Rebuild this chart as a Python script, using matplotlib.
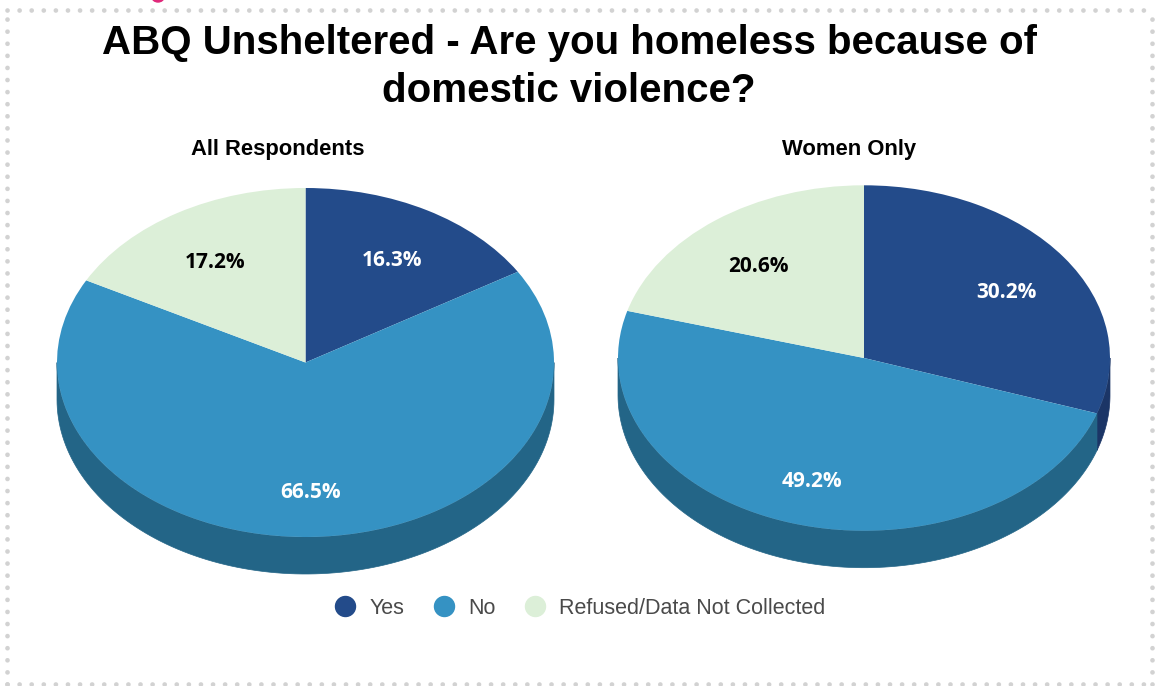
import numpy as np
import matplotlib.pyplot as plt
from matplotlib.patches import Polygon, Ellipse
from matplotlib.lines import Line2D
from matplotlib.transforms import ScaledTranslation

# --- data -------------------------------------------------------------
categories = ["Yes", "No", "Refused/Data Not Collected"]
all_respondents = [16.3, 66.5, 17.2]
women_only = [30.2, 49.2, 20.6]
panel_titles = ["All Respondents", "Women Only"]
chart_title = "ABQ Unsheltered - Are you homeless because of\ndomestic violence?"

# --- style ------------------------------------------------------------
top_colors = ["#234b8a", "#3592c3", "#dcefd8"]
side_colors = ["#1b3566", "#236587", "#a9bba5"]
label_colors = ["white", "white", "black"]

W, H = 1156, 686
fig = plt.figure(figsize=(W / 100, H / 100), dpi=100)
fig.patch.set_facecolor("white")

XL, YT, YB = 1.1, 1.1, 1.4   # axis extents in radius units


def pie_axes(cx, cy, rx, ry):
    """Axes whose unit circle is an ellipse centred at pixel (cx, cy)."""
    left = (cx - XL * rx) / W
    width = 2 * XL * rx / W
    top = cy - YT * ry
    height = (YT + YB) * ry
    bottom = (H - top - height) / H
    return fig.add_axes([left, bottom, width, height / H])


def tilted_pie(ax, values, depth, pctdist):
    fracs = np.asarray(values, dtype=float) / np.sum(values)
    edges = np.concatenate([[0.0], np.cumsum(fracs)]) * 360.0  # clockwise from 12 o'clock
    # side wall: only the front half (3 o'clock -> 9 o'clock) is visible
    for i in range(len(values)):
        lo, hi = max(edges[i], 90.0), min(edges[i + 1], 270.0)
        if hi <= lo:
            continue
        a = np.radians(np.linspace(lo, hi, 120))
        xs, ys = np.sin(a), np.cos(a)
        pts = np.column_stack([np.concatenate([xs, xs[::-1]]),
                               np.concatenate([ys, ys[::-1] - depth])])
        ax.add_patch(Polygon(pts, closed=True, facecolor=side_colors[i],
                             edgecolor=side_colors[i], linewidth=0.5, zorder=1))
    wedges, _, autotexts = ax.pie(
        values, colors=top_colors, startangle=90, counterclock=False,
        radius=1.0, autopct="%1.1f%%", pctdistance=pctdist,
        wedgeprops=dict(linewidth=0, zorder=2),
        textprops=dict(fontsize=15, fontweight="bold", family="Open Sans"),
        frame=True)
    for w in wedges:
        w.set_zorder(2)
    shift = ax.transData + ScaledTranslation(0, -0.06, fig.dpi_scale_trans)
    for t, c in zip(autotexts, label_colors):
        t.set_color(c)
        t.set_zorder(3)
        t.set_transform(shift)
    ax.set_aspect("auto")
    ax.set_xlim(-XL, XL)
    ax.set_ylim(-YB, YT)
    ax.axis("off")


ax1 = pie_axes(305.5, 362.5, 248.5, 174.5)
tilted_pie(ax1, all_respondents, 37 / 174.5, 0.71)
ax2 = pie_axes(864.0, 358.0, 246.0, 172.7)
tilted_pie(ax2, women_only, 37 / 172.7, 0.71)

# --- text -------------------------------------------------------------
fig.text(569 / W, 1 - 24 / H, chart_title, ha="center", va="top",
         fontsize=29, fontweight="bold", family="Liberation Sans",
         linespacing=1.33, color="black")
fig.text(278 / W, 1 - 155 / H, panel_titles[0], ha="center", va="baseline",
         fontsize=15.8, fontweight="bold", family="Liberation Sans")
fig.text(849 / W, 1 - 155 / H, panel_titles[1], ha="center", va="baseline",
         fontsize=15.8, fontweight="bold", family="Liberation Sans")

handles = [Line2D([], [], linestyle="none", marker="o", markersize=14.4,
                  markerfacecolor=c, markeredgecolor=c) for c in top_colors]
fig.legend(handles, categories, loc="center", bbox_to_anchor=(580 / W, 1 - 608 / H),
           ncol=3, frameon=False, handletextpad=0.62, columnspacing=1.35,
           prop=dict(family="Liberation Sans", size=15.5), labelcolor="#4a4a4a",
           handlelength=1.0)

# --- dotted frame -----------------------------------------------------
frame_kw = dict(color="#d2d2d2", linewidth=3.4, linestyle=(0, (0.01, 2.55)),
                dash_capstyle="round", transform=fig.transFigure)
x0, x1 = 6.5 / W, 1152 / W
y0, y1 = 1 - 684 / H, 1 - 10 / H
fig.add_artist(Line2D([x0, x1], [y1, y1], **frame_kw))
fig.add_artist(Line2D([x0, x1], [y0, y0], **frame_kw))
fig.add_artist(Line2D([x0, x0], [y0, y1], **frame_kw))
fig.add_artist(Line2D([x1, x1], [y0, y1], **frame_kw))
fig.add_artist(Ellipse((158 / W, 1 + 3 / H), 12 / W, 10 / H, color="#e0287a",
                       transform=fig.transFigure, clip_on=False))

fig.savefig("out.png", dpi=100, facecolor="white")
